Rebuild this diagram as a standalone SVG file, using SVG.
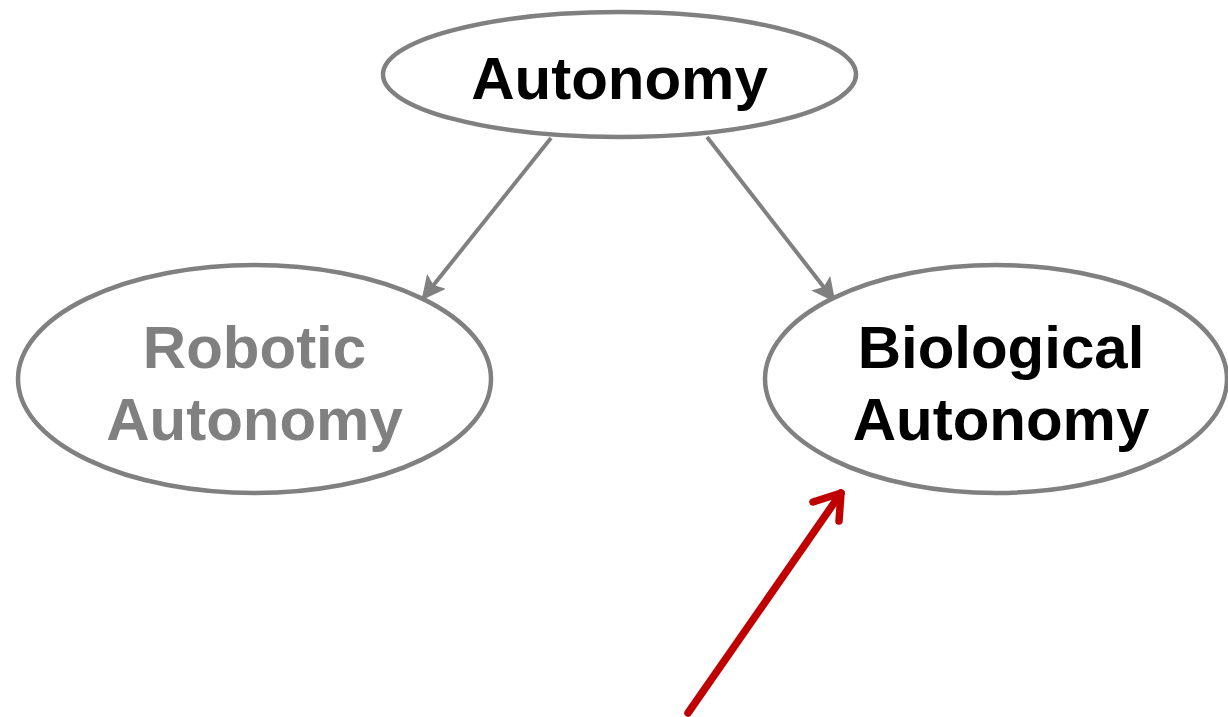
<svg xmlns="http://www.w3.org/2000/svg" width="1228" height="717" viewBox="0 0 1228 717">
  <style>
    .node { fill: #ffffff; stroke: #808080; stroke-width: 4.5; }
    .label { font-family: "Liberation Sans", Arial, sans-serif; font-weight: bold; font-size: 60px; text-anchor: middle; }
    .dark { fill: #000000; }
    .muted { fill: #808080; }
    .edge { stroke: #808080; stroke-width: 4; fill: none; }
    .pointer { stroke: #c00000; stroke-width: 7.5; fill: none; stroke-linecap: round; stroke-linejoin: round; }
  </style>
  <defs>
    <marker id="grayHead" markerWidth="6" markerHeight="6" refX="5" refY="3" orient="auto" markerUnits="strokeWidth">
      <path d="M0,0 L6,3 L0,6 L1.2,3 Z" fill="#808080"/>
    </marker>
  </defs>
  <rect width="1228" height="717" fill="#ffffff"/>

  <g id="connectors">
    <line class="edge" x1="551" y1="138" x2="424" y2="297" marker-end="url(#grayHead)"/>
    <line class="edge" x1="707" y1="137" x2="833" y2="299" marker-end="url(#grayHead)"/>
    <g id="pointer-arrow">
      <line class="pointer" x1="688" y1="713" x2="841" y2="493"/>
      <polyline class="pointer" points="813,502 841,493 839,521"/>
    </g>
  </g>

  <g id="autonomy">
    <ellipse class="node" cx="619.5" cy="74.5" rx="236.5" ry="62.5"/>
    <text class="label dark" x="619.5" y="99">Autonomy</text>
  </g>

  <g id="robotic-autonomy">
    <ellipse class="node" cx="254.5" cy="379" rx="236.5" ry="114"/>
    <text class="label muted" x="254.5" y="368">Robotic</text>
    <text class="label muted" x="254.5" y="440">Autonomy</text>
  </g>

  <g id="biological-autonomy">
    <ellipse class="node" cx="996" cy="379" rx="231" ry="114"/>
    <text class="label dark" x="1001" y="368">Biological</text>
    <text class="label dark" x="1001" y="440">Autonomy</text>
  </g>
</svg>
